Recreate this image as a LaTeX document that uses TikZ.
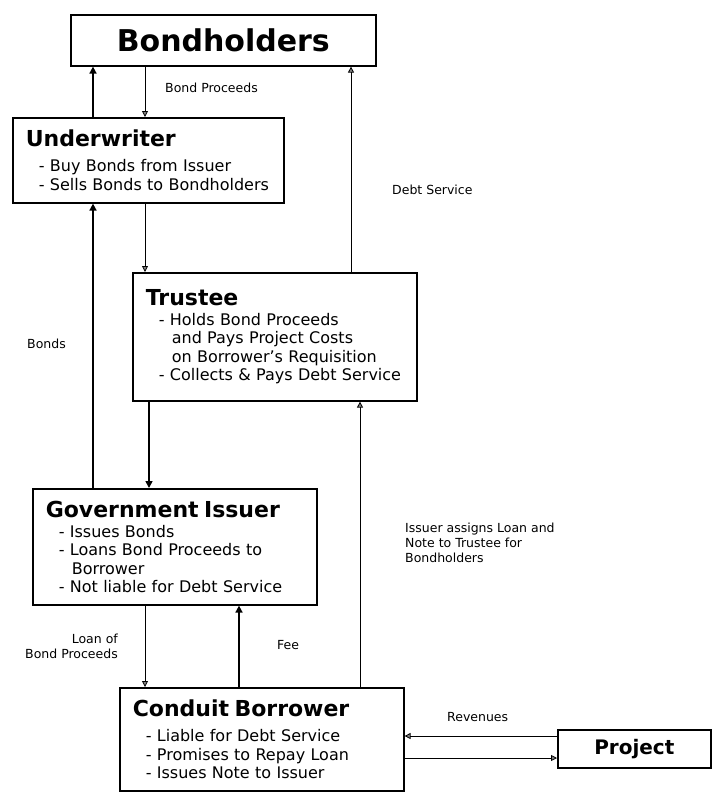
\documentclass[tikz,border=0pt]{standalone}
\usepackage{fontspec}
\setmainfont{DejaVu Sans}
\usetikzlibrary{arrows.meta}

% Kopfzeile und Spiegelstriche in den Kaesten
\newcommand{\hd}[1]{{\fontsize{22}{24}\selectfont\bfseries #1}}
\newcommand{\bul}{\hspace*{13pt}- }
\newcommand{\contl}{\hspace*{26pt}}

\begin{document}
\begin{tikzpicture}[
    x=1pt, y=-1pt,
    font=\fontsize{12.5}{15}\selectfont,
    box/.style={draw, line width=1.6pt, anchor=north west,
        inner xsep=13pt, inner ysep=0pt, align=left,
        font=\fontsize{16}{18.5}\selectfont},
    bigbox/.style={draw, line width=1.6pt, anchor=north west,
        inner sep=0pt, font=\bfseries\fontsize{30}{34}\selectfont},
    flow/.style={-{Triangle[length=6pt,width=6pt,fill=gray]}, line width=0.8pt},
    heavy/.style={-{Triangle[length=7pt,width=7pt]}, line width=1.6pt},
    lbl/.style={anchor=west, inner sep=0pt}
    ]
        \useasboundingbox (0,0) rectangle (719,793);

        % Kaesten
        \node[bigbox, minimum width=305pt, minimum height=51pt] (hold) at (70,14) {Bondholders};
        \node[box, text width=245pt, minimum height=85pt] (uw) at (12,117)
            {\hd{Underwriter}\\[6.5pt]
             \bul Buy Bonds from Issuer\\
             \bul Sells Bonds to Bondholders};
        \node[box, text width=258pt, minimum height=128pt] (tr) at (132,272)
            {\hd{Trustee}\\[1.5pt]
             \bul Holds Bond Proceeds\\
             \contl and Pays Project Costs\\
             \contl on Borrower’s Requisition\\
             \bul Collects \& Pays Debt Service};
        \node[box, text width=258pt, minimum height=116pt] (gi) at (32,488)
            {\hd{Government Issuer}\\[1.5pt]
             \bul Issues Bonds\\
             \bul Loans Bond Proceeds to\\
             \contl Borrower\\
             \bul Not liable for Debt Service};
        \node[box, text width=258pt, minimum height=103pt] (cb) at (119,687)
            {\hd{Conduit Borrower}\\[6.5pt]
             \bul Liable for Debt Service\\
             \bul Promises to Repay Loan\\
             \bul Issues Note to Issuer};
        \node[bigbox, minimum width=153pt, minimum height=38pt,
            font=\bfseries\fontsize{20}{24}\selectfont] (pr) at (557,729) {Project};

        % Spalten und Zeilen der Leitungen
        \coordinate (xa) at (93,0);
        \coordinate (xb) at (145,0);
        \coordinate (xc) at (149,0);
        \coordinate (xd) at (239,0);
        \coordinate (xe) at (351,0);
        \coordinate (xf) at (360,0);
        \coordinate (ya) at (0,736);
        \coordinate (yb) at (0,758);

        % Pfeile
        \draw[heavy] (uw.north -| xa) -- (hold.south -| xa);
        \draw[flow]  (hold.south -| xb) -- (uw.north -| xb);
        \draw[flow]  (uw.south -| xb) -- (tr.north -| xb);
        \draw[heavy] (gi.north -| xa) -- (uw.south -| xa);
        \draw[flow]  (tr.north -| xe) -- (hold.south -| xe);
        \draw[heavy] (tr.south -| xc) -- (gi.north -| xc);
        \draw[flow]  (cb.north -| xf) -- (tr.south -| xf);
        \draw[flow]  (gi.south -| xb) -- (cb.north -| xb);
        \draw[heavy] (cb.north -| xd) -- (gi.south -| xd);
        \draw[flow]  (pr.west |- ya) -- (cb.east |- ya);
        \draw[flow]  (cb.east |- yb) -- (pr.west |- yb);

        % Beschriftungen
        \node[lbl] (bp) at (165,88) {Bond Proceeds};
        \node[lbl] (ds) at (392,190) {Debt Service};
        \node[lbl] (bo) at (27,344) {Bonds};
        \node[lbl, anchor=north west, align=left] (ia) at (405,523)
            {Issuer assigns Loan and\\Note to Trustee for\\Bondholders};
        \node[lbl, anchor=east, align=right] (lo) at (118,646) {Loan of\\Bond Proceeds};
        \node[lbl] (fe) at (277,645) {Fee};
        \node[lbl] (rv) at (447,717) {Revenues};
\end{tikzpicture}
\end{document}
